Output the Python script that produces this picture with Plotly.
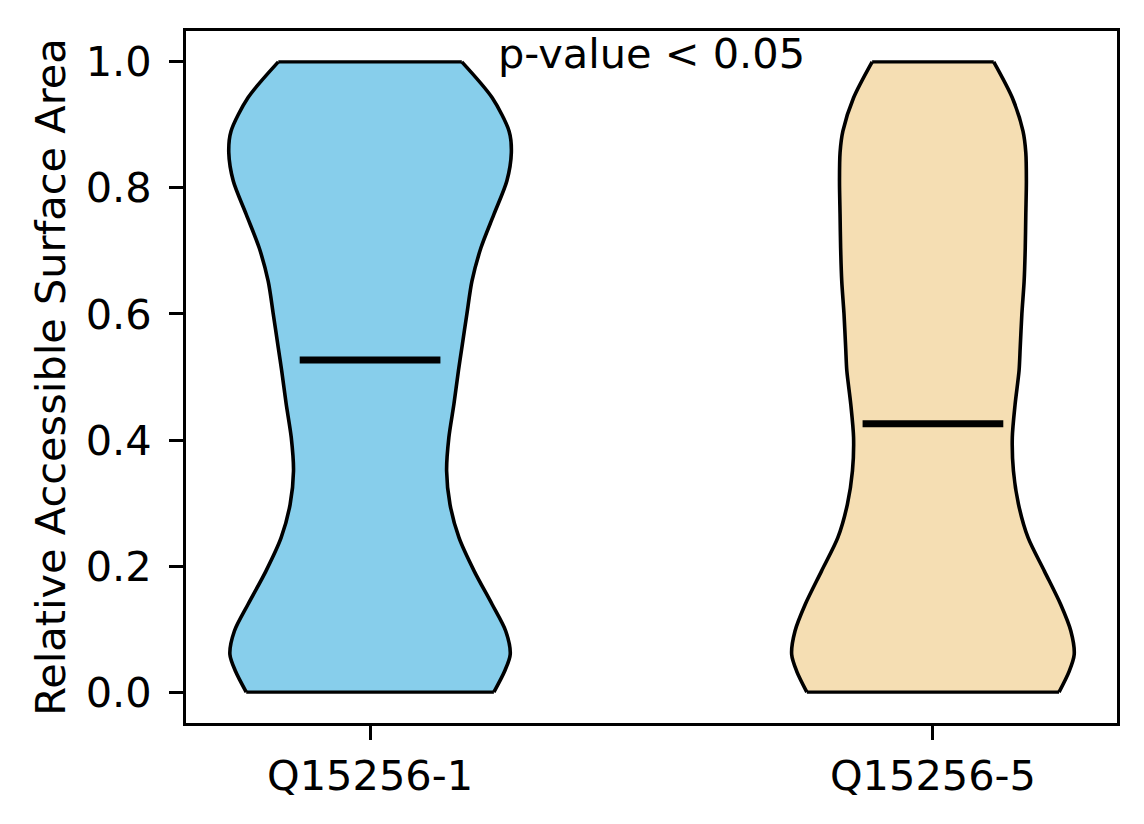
import numpy as np
import plotly.graph_objects as go

# violin outlines: RSA level and half-width (x units)
rsa_levels = [1.0, 0.943, 0.890, 0.856, 0.811, 0.758, 0.705, 0.652, 0.600, 0.546, 0.510,
              0.457, 0.404, 0.351, 0.298, 0.245, 0.192, 0.139, 0.097, 0.060, 0.033, 0.0]
halfwidth_q1 = [0.163, 0.217, 0.247, 0.251, 0.243, 0.220, 0.197, 0.181, 0.172, 0.163, 0.157,
                0.149, 0.140, 0.136, 0.142, 0.158, 0.185, 0.217, 0.241, 0.249, 0.239, 0.220]
halfwidth_q5 = [0.108, 0.141, 0.160, 0.165, 0.166, 0.165, 0.164, 0.162, 0.158, 0.155, 0.153,
                0.146, 0.141, 0.143, 0.152, 0.169, 0.198, 0.227, 0.245, 0.251, 0.242, 0.224]

isoforms = ["Q15256-1", "Q15256-5"]
positions = [1, 2]
medians = [0.527, 0.426]
colors = ["#87CEEB", "#F5DEB3"]

fig = go.Figure()

for name, pos, hw, med, col in zip(isoforms, positions, [halfwidth_q1, halfwidth_q5], medians, colors):
    y = np.array(rsa_levels)
    w = np.array(hw)
    edge = dict(color="black", width=3.6, shape="spline", smoothing=0.8)
    # both sides top->bottom; tonextx joins their ends with straight lines
    fig.add_trace(go.Scatter(x=pos - w, y=y, mode="lines", line=edge,
                             showlegend=False, hoverinfo="skip"))
    fig.add_trace(go.Scatter(x=pos + w, y=y, mode="lines", line=edge,
                             fill="tonextx", fillcolor=col, name=name,
                             showlegend=False, hoverinfo="skip"))
    # flat cut at top and bottom
    fig.add_trace(go.Scatter(
        x=[pos - w[0], pos + w[0], None, pos - w[-1], pos + w[-1]],
        y=[y[0], y[0], None, y[-1], y[-1]], mode="lines",
        line=dict(color="black", width=3.3), showlegend=False, hoverinfo="skip"
    ))
    fig.add_trace(go.Scatter(
        x=[pos - 0.125, pos + 0.125], y=[med, med], mode="lines",
        line=dict(color="black", width=7), showlegend=False
    ))

fig.add_annotation(x=1.5, y=1.013, xref="x", yref="y", text="p-value < 0.05",
                   showarrow=False, xanchor="center", yanchor="middle",
                   font=dict(size=41.5, color="black"))

fig.update_layout(
    width=1144, height=824,
    margin=dict(l=178, r=35, t=23, b=109),
    plot_bgcolor="white", paper_bgcolor="white",
    font=dict(family="DejaVu Sans", size=41.5, color="black"),
)
fig.update_xaxes(
    range=[0.673, 2.327], tickvals=positions, ticktext=isoforms,
    showgrid=False, zeroline=False, showline=True, linecolor="black", linewidth=3,
    mirror=True, ticks="outside", ticklen=14, tickwidth=3, tickcolor="black",
)
fig.update_yaxes(
    range=[-0.049, 1.049], tickvals=[0, 0.2, 0.4, 0.6, 0.8, 1.0], tickformat=".1f",
    title=dict(text="Relative Accessible Surface Area", font=dict(size=41.5), standoff=8),
    showgrid=False, zeroline=False, showline=True, linecolor="black", linewidth=3,
    mirror=True, ticks="outside", ticklen=14, tickwidth=3, tickcolor="black",
    ticklabelstandoff=9,
)

fig.write_html("out.html")
